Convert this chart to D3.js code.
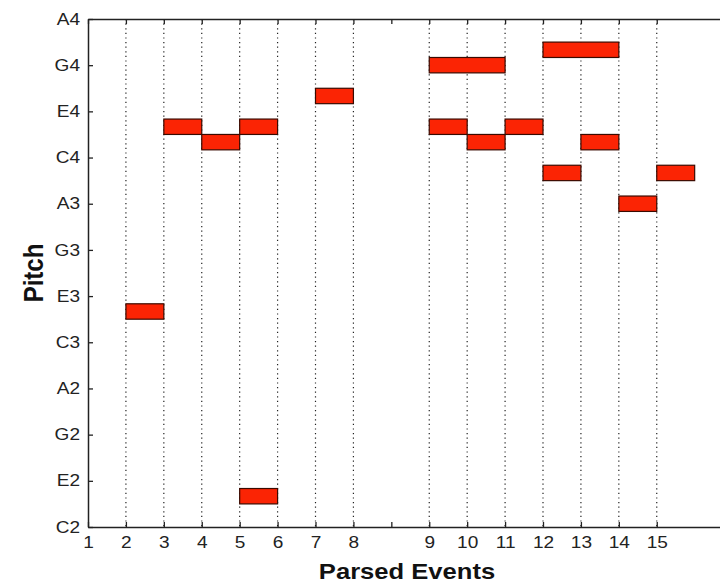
<!DOCTYPE html>
<html>
<head>
<meta charset="utf-8">
<script src="https://cdn.jsdelivr.net/npm/d3@7"></script>
<style>
  html, body { margin: 0; padding: 0; background: #fff; }
  svg { display: block; }
</style>
</head>
<body>
<svg id="chart" width="720" height="586"></svg>
<script>
// ---- data ----
// pitch axis: semitones above C2, ticks every 3 semitones (labels as printed)
const yTickValues = [0, 3, 6, 9, 12, 15, 18, 21, 24, 27, 30, 33];
const yTickLabels = ["C2", "E2", "G2", "A2", "C3", "E3", "G3", "A3", "C4", "E4", "G4", "A4"];
// event axis
const xTickValues = [1, 2, 3, 4, 5, 6, 7, 8, 9, 10, 11, 12, 13, 14, 15, 16];
const xTickLabels = ["1", "2", "3", "4", "5", "6", "7", "8", "", "9", "10", "11", "12", "13", "14", "15"];
const xGridValues = [2, 3, 4, 5, 6, 7, 8, 10, 11, 12, 13, 14, 15, 16];
// notes
const noteStart = [2, 3, 4, 5, 5, 7, 10, 10, 11, 12, 13, 13, 14, 15, 16];
const noteEnd   = [3, 4, 5, 6, 6, 8, 12, 11, 12, 13, 15, 14, 15, 16, 17];
const notePitch = [14, 26, 25, 26, 2, 28, 30, 26, 25, 26, 31, 23, 25, 21, 23];

(function () {
const notes = noteStart.map((s, i) => ({ s, e: noteEnd[i], p: notePitch[i] }));

const svg = d3.select("#chart");
const pLeft = 88, pRight = 725, pTop = 19, pBottom = 527;
const SX = 1.19; // horizontal stretch of the original picture

const x = d3.scaleLinear().domain([1, 17.8]).range([pLeft, pRight]);
const y = d3.scaleLinear().domain([0, 33]).range([pBottom, pTop]);

// grid
svg.append("g").selectAll("line").data(xGridValues).join("line")
  .attr("x1", d => x(d)).attr("x2", d => x(d))
  .attr("y1", pTop).attr("y2", pBottom)
  .attr("stroke", "#222").attr("stroke-width", 1.2)
  .attr("stroke-dasharray", "1.2,3.4");

// bars
svg.append("g").selectAll("rect").data(notes).join("rect")
  .attr("x", d => x(d.s)).attr("width", d => x(d.e) - x(d.s))
  .attr("y", d => y(d.p + 0.5)).attr("height", d => y(d.p - 0.5) - y(d.p + 0.5))
  .attr("fill", "#fb2404").attr("stroke", "#3a0a00").attr("stroke-width", 1.2);

// axes
const fontFam = "'Liberation Sans', Arial, Helvetica, sans-serif";
const xAxis = d3.axisBottom(x).tickValues(xTickValues)
  .tickFormat((d, i) => xTickLabels[i]).tickSizeInner(-5).tickSizeOuter(0).tickPadding(10);
const gx = svg.append("g").attr("transform", `translate(0,${pBottom})`).call(xAxis);
const xAxisTop = d3.axisTop(x).tickValues(xTickValues)
  .tickFormat("").tickSizeInner(-5).tickSizeOuter(0);
const gxt = svg.append("g").attr("transform", `translate(0,${pTop})`).call(xAxisTop);

const yAxis = d3.axisLeft(y).tickValues(yTickValues)
  .tickFormat((d, i) => yTickLabels[i]).tickSizeInner(-5).tickSizeOuter(0).tickPadding(8);
const gy = svg.append("g").attr("transform", `translate(${pLeft},0)`).call(yAxis);

[gx, gxt, gy].forEach(g => {
  g.select(".domain").attr("stroke", "#222").attr("stroke-width", 1.5);
  g.selectAll(".tick line").attr("stroke", "#222").attr("stroke-width", 1.3);
  g.selectAll(".tick text").attr("fill", "#222")
    .style("font-family", fontFam).style("font-size", "16px")
    .attr("transform", `scale(${SX},1)`);
});
gx.selectAll(".tick text").attr("dy", "0.71em");
gy.selectAll(".tick text").attr("x", -8 / SX);

// axis titles
svg.append("text")
  .attr("transform", `translate(407,579) scale(${SX},1)`)
  .attr("text-anchor", "middle")
  .style("font-family", fontFam).style("font-size", "21.5px").style("font-weight", "bold")
  .attr("fill", "#111").text("Parsed Events");

svg.append("text")
  .attr("transform", `translate(43,273) scale(${SX},1) rotate(-90)`)
  .attr("text-anchor", "middle")
  .style("font-family", fontFam).style("font-size", "24px").style("font-weight", "bold")
  .attr("fill", "#111").text("Pitch");
})();
</script>
</body>
</html>
